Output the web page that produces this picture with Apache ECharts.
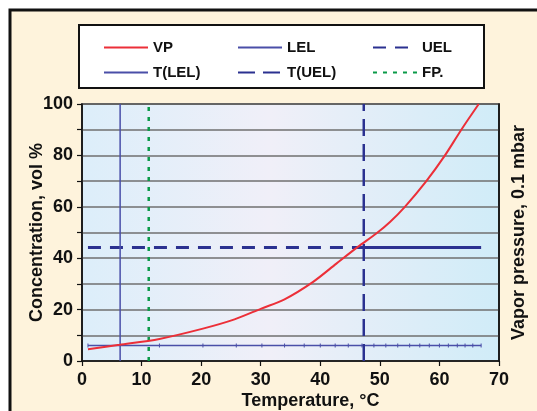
<!DOCTYPE html>
<html>
<head>
<meta charset="utf-8">
<script src="https://cdn.jsdelivr.net/npm/echarts@6/dist/echarts.min.js"></script>
<style>
  html, body { margin: 0; padding: 0; background: #fff; }
  #chart { width: 537px; height: 411px; }
</style>
</head>
<body>
<div id="chart"></div>
<script>
// vapour pressure curve (temperature °C -> 0.1 mbar)
const vpTemp = [1, 6.3, 13, 20.3, 25.6, 30.1, 34, 38.8, 42.7, 46.3, 49.4, 51.7, 54.2, 57.8, 60.9, 63.7, 66.6]
const vpValue = [4.6, 6.3, 8.6, 12.6, 16.2, 20.4, 24, 30.8, 37.9, 44.4, 49.6, 54.1, 60, 70, 79.9, 90.1, 100]

// explosion limits, vol %
const lelValue = 6
const uelValue = 44.2
const lelTemp = [1, 13, 20.3, 25.9, 30.2, 34, 37.3, 40, 42.5, 44.7, 47, 49, 51, 53, 55, 56.7, 58.3, 60, 61.5, 63, 64.3, 65.6, 67]
const uelRange = [1, 67]
const uelSolidFrom = 47.3

// characteristic temperatures, °C
const tLel = 6.4
const tUel = 47.3
const flashPoint = 11.2
const vertRange = [0, 100]

const xTicks = { min: 0, max: 70, interval: 10 }
const yTicks = { min: 0, max: 100, interval: 10 }

const font = '"Liberation Sans", Arial, sans-serif'
const navy = '#2b3190'
const blue = '#4a4fa8'

function renderChart() {
  const myChart = echarts.init(document.getElementById('chart'))

  const lineSeries = (name, data, style, extra) => Object.assign({
    name: name,
    type: 'line',
    symbol: 'none',
    data: data,
    lineStyle: style,
    itemStyle: { color: style.color },
    animation: false
  }, extra || {})

  const legendAt = (name, left, top) => ({
    data: [name],
    left: left,
    top: top,
    padding: 0,
    itemWidth: 44,
    itemHeight: 14,
    itemStyle: { opacity: 0 },
    textStyle: { fontFamily: font, fontWeight: 'bold', fontSize: 15, color: '#111' },
    selectedMode: false
  })

  const option = {
    backgroundColor: '#fff',
    graphic: [
      {
        type: 'rect', z: -10, silent: true,
        shape: { x: 10, y: 10, width: 600, height: 500 },
        style: { fill: '#fef3dc', stroke: '#111', lineWidth: 3 }
      },
      {
        type: 'rect', z: -5, silent: true,
        shape: { x: 79, y: 25, width: 405, height: 63 },
        style: { fill: '#fff', stroke: '#111', lineWidth: 2 }
      }
    ],
    legend: [
      legendAt('VP', 103, 40),
      legendAt('LEL', 237, 40),
      legendAt('UEL', 372, 40),
      legendAt('T(LEL)', 103, 65),
      legendAt('T(UEL)', 237, 65),
      legendAt('FP.', 372, 65)
    ],
    grid: {
      left: 82,
      right: 38,
      top: 104,
      bottom: 50,
      outerBoundsMode: 'none',
      show: true,
      borderColor: '#111',
      borderWidth: 1.5,
      backgroundColor: new echarts.graphic.LinearGradient(0, 0, 1, 0, [
        { offset: 0, color: '#dceefa' },
        { offset: 0.45, color: '#f0eff8' },
        { offset: 1, color: '#d0ecf8' }
      ])
    },
    xAxis: {
      type: 'value',
      min: xTicks.min,
      max: xTicks.max,
      interval: xTicks.interval,
      name: 'Temperature, °C',
      nameLocation: 'middle',
      nameGap: 31,
      nameMoveOverlap: false,
      nameTextStyle: { fontFamily: font, fontWeight: 'bold', fontSize: 18, color: '#111', padding: [0, 0, 0, 40] },
      axisLine: { lineStyle: { color: '#111', width: 1.5 } },
      axisTick: { inside: false, length: 5, lineStyle: { color: '#111', width: 1.2 } },
      axisLabel: { margin: 10, fontFamily: font, fontWeight: 'bold', fontSize: 18, color: '#111' },
      splitLine: { show: false }
    },
    yAxis: [
      {
        type: 'value',
        min: yTicks.min,
        max: yTicks.max,
        interval: yTicks.interval,
        name: 'Concentration, vol %',
        nameLocation: 'middle',
        nameGap: 36,
        nameMoveOverlap: false,
        nameTextStyle: { fontFamily: font, fontWeight: 'bold', fontSize: 18, color: '#111' },
        axisLine: { show: true, lineStyle: { color: '#111', width: 1.5 } },
        axisTick: { inside: false, length: 5, lineStyle: { color: '#111', width: 1.2 } },
        axisLabel: {
          margin: 9, fontFamily: font, fontWeight: 'bold', fontSize: 18, color: '#111',
          formatter: v => (v % 20 === 0 ? String(v) : '')
        },
        splitLine: { show: true, lineStyle: { color: '#6f6f6f', width: 1.5 } }
      },
      {
        type: 'value',
        position: 'right',
        min: yTicks.min,
        max: yTicks.max,
        interval: 20,
        name: 'Vapor pressure, 0.1 mbar',
        nameLocation: 'middle',
        nameGap: 11,
        nameMoveOverlap: false,
        nameTextStyle: { fontFamily: font, fontWeight: 'bold', fontSize: 18, color: '#111' },
        axisLine: { show: true, lineStyle: { color: '#111', width: 1.5 } },
        axisTick: { show: false },
        axisLabel: { show: false },
        splitLine: { show: false }
      }
    ],
    series: [
      lineSeries('LEL', lelTemp.map(t => [t, lelValue]), { color: blue, width: 1.5 }, {
        symbol: 'rect', symbolSize: [1, 4], showSymbol: true
      }),
      lineSeries('UEL', uelRange.map(t => [t, uelValue]), { color: navy, width: 3, type: [13, 9] }),
      lineSeries('UEL solid', [[uelSolidFrom, uelValue], [uelRange[1], uelValue]], { color: navy, width: 3 }),
      lineSeries('T(LEL)', vertRange.map(v => [tLel, v]), { color: blue, width: 1.5 }),
      lineSeries('T(UEL)', vertRange.map(v => [tUel, v]), { color: navy, width: 2.5, type: [17, 8] }),
      lineSeries('FP.', vertRange.map(v => [flashPoint, v]), { color: '#0a9a48', width: 2.5, type: [4, 6] }),
      lineSeries('VP', vpTemp.map((t, i) => [t, vpValue[i]]), { color: '#ec2f38', width: 2 }, { smooth: 0.3, z: 5 })
    ]
  }

  myChart.setOption(option)
}

renderChart()
</script>
</body>
</html>
